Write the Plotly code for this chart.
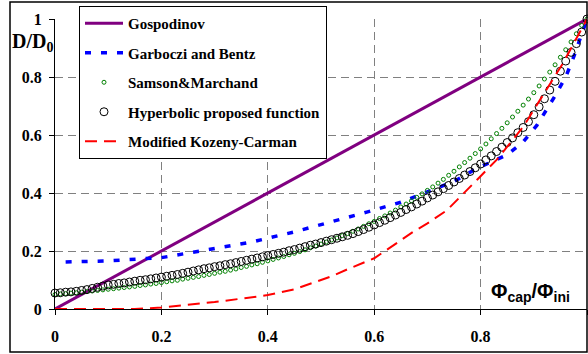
import plotly.graph_objects as go

# ---------------- data ----------------
gosp_x = [0.0, 0.5, 1.0]
gosp_y = [0.0, 0.5, 1.0]

garb_x = [0.02, 0.10, 0.20, 0.285, 0.37, 0.45, 0.52, 0.586, 0.65, 0.70, 0.75, 0.79, 0.85, 0.88, 0.906, 0.94, 0.96, 0.975, 1.0]
garb_y = [0.162, 0.166, 0.177, 0.203, 0.231, 0.266, 0.300, 0.334, 0.368, 0.405, 0.440, 0.482, 0.532, 0.576, 0.634, 0.735, 0.800, 0.869, 1.0]

phi_grid = [i / 100 for i in range(101)]

samson_y = [0.050, 0.052, 0.053, 0.055, 0.056, 0.058, 0.060, 0.062, 0.064, 0.066,
            0.068, 0.070, 0.072, 0.074, 0.076, 0.078, 0.081, 0.083, 0.086, 0.088,
            0.091, 0.094, 0.097, 0.099, 0.103, 0.106, 0.109, 0.112, 0.116, 0.119,
            0.123, 0.127, 0.130, 0.134, 0.138, 0.143, 0.147, 0.152, 0.156, 0.161,
            0.166, 0.171, 0.176, 0.181, 0.187, 0.192, 0.198, 0.204, 0.211, 0.217,
            0.224, 0.231, 0.238, 0.245, 0.253, 0.260, 0.268, 0.276, 0.285, 0.294,
            0.302, 0.312, 0.321, 0.331, 0.341, 0.352, 0.362, 0.373, 0.385, 0.397,
            0.409, 0.421, 0.434, 0.447, 0.461, 0.475, 0.490, 0.505, 0.520, 0.536,
            0.552, 0.569, 0.587, 0.605, 0.623, 0.642, 0.662, 0.682, 0.703, 0.724,
            0.746, 0.769, 0.793, 0.817, 0.842, 0.868, 0.894, 0.921, 0.949, 0.978,
            1.000]

hyper_y = [0.055, 0.056, 0.058, 0.059, 0.061, 0.064, 0.067, 0.071, 0.075, 0.079,
           0.083, 0.085, 0.088, 0.090, 0.093, 0.096, 0.099, 0.101, 0.104, 0.107,
           0.110, 0.113, 0.116, 0.119, 0.123, 0.127, 0.131, 0.135, 0.139, 0.142,
           0.146, 0.149, 0.153, 0.156, 0.160, 0.164, 0.168, 0.172, 0.176, 0.180,
           0.184, 0.188, 0.192, 0.196, 0.201, 0.205, 0.210, 0.215, 0.220, 0.224,
           0.229, 0.234, 0.239, 0.244, 0.249, 0.254, 0.260, 0.267, 0.274, 0.282,
           0.290, 0.298, 0.306, 0.315, 0.324, 0.333, 0.343, 0.352, 0.362, 0.372,
           0.383, 0.393, 0.404, 0.415, 0.426, 0.438, 0.450, 0.462, 0.474, 0.487,
           0.500, 0.514, 0.528, 0.543, 0.558, 0.574, 0.590, 0.608, 0.626, 0.646,
           0.670, 0.697, 0.725, 0.755, 0.785, 0.820, 0.855, 0.885, 0.915, 0.955,
           1.000]

koz_x = [0.0, 0.10, 0.15, 0.20, 0.25, 0.30, 0.36, 0.40, 0.45, 0.485, 0.52, 0.555, 0.60, 0.643, 0.673, 0.70, 0.737, 0.793, 0.83, 0.88, 0.955, 1.0]
koz_y = [0.0, 0.0, 0.0, 0.005, 0.014, 0.024, 0.038, 0.048, 0.068, 0.090, 0.113, 0.141, 0.175, 0.228, 0.266, 0.295, 0.341, 0.445, 0.514, 0.628, 0.848, 1.0]

x_ticks = [0, 0.2, 0.4, 0.6, 0.8, 1]
x_tick_labels = ["0", "0.2", "0.4", "0.6", "0.8", "1"]
y_ticks = [0, 0.2, 0.4, 0.6, 0.8, 1]
y_tick_labels = ["0", "0.2", "0.4", "0.6", "0.8", "1"]

# ---------------- figure ----------------
serif = "Liberation Serif"
fig = go.Figure()

fig.add_trace(go.Scatter(x=gosp_x, y=gosp_y, mode="lines", name="Gospodinov",
                         legendgroup="a", line=dict(color="#800080", width=3)))
fig.add_trace(go.Scatter(x=garb_x, y=garb_y, mode="lines", name="Garboczi and Bentz",
                         legendgroup="b", line=dict(color="#0000FF", width=3.5, dash="6px,10px")))
fig.add_trace(go.Scatter(x=phi_grid, y=samson_y, mode="markers", name="Samson&Marchand",
                         legendgroup="c", cliponaxis=False,
                         marker=dict(symbol="circle-open", size=4, color="#008000", line=dict(width=1))))
fig.add_trace(go.Scatter(x=phi_grid, y=hyper_y, mode="markers", name="Hyperbolic proposed function",
                         legendgroup="d", cliponaxis=False,
                         marker=dict(symbol="circle-open", size=8, color="#000000", line=dict(width=1))))
fig.add_trace(go.Scatter(x=koz_x, y=koz_y, mode="lines", name="Modified Kozeny-Carman",
                         legendgroup="e", line=dict(color="#FF0000", width=2, dash="12px,7px")))

W, H = 588, 354
L, R, T, B = 55, 1, 19, 45
pw, ph = W - L - R, H - T - B

def px(xp):
    return (xp - L) / pw

def py(yp):
    return (H - B - yp) / ph

axis_common = dict(
    showline=True, linecolor="black", linewidth=1.2,
    showgrid=True, gridcolor="#808080", gridwidth=1, griddash="8px,5px",
    zeroline=False, ticks="outside", ticklen=5, tickcolor="black",
    tickfont=dict(family=serif, size=16, color="black", weight="bold"),
)

fig.update_xaxes(range=[0, 1], tickvals=x_ticks, ticktext=x_tick_labels,
                 ticklabelstandoff=8, **axis_common)
fig.update_yaxes(range=[0, 1], tickvals=y_ticks, ticktext=y_tick_labels,
                 ticklabelstandoff=4, **axis_common)

fig.update_layout(
    width=W, height=H,
    margin=dict(l=L, r=R, t=T, b=B),
    paper_bgcolor="white", plot_bgcolor="white",
    showlegend=True,
    legend=dict(
        x=px(79), y=py(6), xanchor="left", yanchor="top",
        bgcolor="white", bordercolor="black", borderwidth=1,
        font=dict(family=serif, size=15, color="black", weight="bold"),
        traceorder="grouped", tracegroupgap=7, itemwidth=38,
    ),
    shapes=[dict(type="rect", xref="paper", yref="paper",
                 x0=px(10), x1=1.0, y0=py(352), y1=py(2),
                 line=dict(color="black", width=1.5), layer="above")],
    annotations=[
        dict(text="D/D<sub>0</sub>", xref="paper", yref="paper", x=px(32), y=py(42),
             showarrow=False, xanchor="center", yanchor="middle",
             font=dict(family=serif, size=20, color="black", weight="bold")),
        dict(text="Φ<sub>cap</sub>/Φ<sub>ini</sub>", xref="paper", yref="paper", x=px(530), y=py(292),
             showarrow=False, xanchor="center", yanchor="middle",
             font=dict(family="Liberation Sans", size=20, color="black", weight="bold")),
    ],
)

fig.write_html("out.html", config={"displayModeBar": False},
               post_script="document.body.style.margin='0';")
